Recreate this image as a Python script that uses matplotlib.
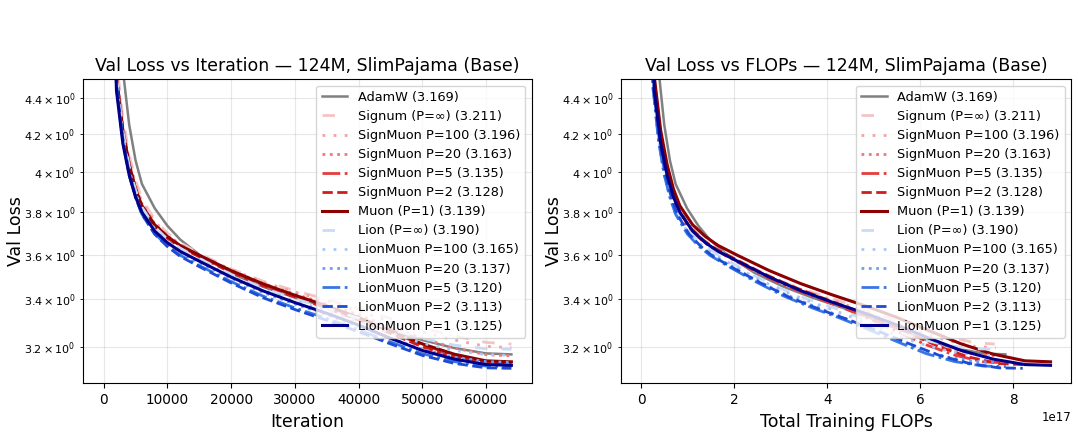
import numpy as np
import matplotlib
matplotlib.use("Agg")
import matplotlib.pyplot as plt

# evaluation steps shared by every run
iters = [0, 1000, 2000, 3000, 4000, 5000, 6000, 8000, 10000, 12000, 15000,
         20000, 25000, 30000, 35000, 40000, 45000, 50000, 55000, 60000, 64000]

labels = ["AdamW (3.169)", "Signum (P=∞) (3.211)", "SignMuon P=100 (3.196)",
          "SignMuon P=20 (3.163)", "SignMuon P=5 (3.135)", "SignMuon P=2 (3.128)",
          "Muon (P=1) (3.139)", "Lion (P=∞) (3.190)", "LionMuon P=100 (3.165)",
          "LionMuon P=20 (3.137)", "LionMuon P=5 (3.120)", "LionMuon P=2 (3.113)",
          "LionMuon P=1 (3.125)"]

adamw = [10.95, 7.0, 5.00, 4.56, 4.25, 4.06, 3.94, 3.82, 3.735, 3.67, 3.60,
         3.515, 3.455, 3.408, 3.367, 3.322, 3.273, 3.228, 3.195, 3.173, 3.169]
signum = [10.95, 6.4, 4.62, 4.29, 4.09, 3.96, 3.865, 3.765, 3.70, 3.655, 3.605,
          3.535, 3.48, 3.438, 3.40, 3.36, 3.318, 3.278, 3.245, 3.218, 3.211]
signmuon_p100 = [10.95, 6.3, 4.57, 4.26, 4.07, 3.94, 3.85, 3.755, 3.693, 3.648, 3.60,
                 3.532, 3.476, 3.432, 3.393, 3.35, 3.305, 3.262, 3.228, 3.202, 3.196]
signmuon_p20 = [10.95, 6.25, 4.54, 4.24, 4.05, 3.925, 3.84, 3.745, 3.687, 3.643, 3.597,
                3.528, 3.47, 3.423, 3.38, 3.333, 3.282, 3.235, 3.195, 3.168, 3.163]
signmuon_p5 = [10.95, 6.2, 4.52, 4.22, 4.04, 3.915, 3.83, 3.737, 3.68, 3.638, 3.593,
               3.523, 3.463, 3.413, 3.367, 3.317, 3.262, 3.208, 3.166, 3.139, 3.135]
signmuon_p2 = [10.95, 6.2, 4.51, 4.21, 4.03, 3.91, 3.825, 3.732, 3.676, 3.634, 3.59,
               3.52, 3.46, 3.41, 3.362, 3.311, 3.255, 3.20, 3.158, 3.132, 3.128]
muon = [10.95, 6.2, 4.52, 4.22, 4.04, 3.915, 3.832, 3.74, 3.684, 3.642, 3.597,
        3.527, 3.468, 3.418, 3.372, 3.322, 3.266, 3.212, 3.17, 3.143, 3.139]
lion = [10.95, 6.2, 4.52, 4.22, 4.03, 3.91, 3.825, 3.73, 3.672, 3.63, 3.582,
        3.51, 3.45, 3.402, 3.362, 3.319, 3.273, 3.235, 3.207, 3.192, 3.190]
lionmuon_p100 = [10.95, 6.1, 4.50, 4.20, 4.01, 3.895, 3.81, 3.72, 3.663, 3.62, 3.574,
                 3.503, 3.443, 3.394, 3.351, 3.305, 3.258, 3.215, 3.185, 3.168, 3.165]
lionmuon_p20 = [10.95, 6.1, 4.48, 4.18, 4.00, 3.885, 3.80, 3.71, 3.653, 3.61, 3.564,
                3.493, 3.43, 3.38, 3.334, 3.285, 3.235, 3.19, 3.158, 3.14, 3.137]
lionmuon_p5 = [10.95, 6.0, 4.46, 4.16, 3.985, 3.872, 3.79, 3.698, 3.64, 3.597, 3.55,
               3.478, 3.414, 3.363, 3.318, 3.27, 3.22, 3.172, 3.14, 3.122, 3.120]
lionmuon_p2 = [10.95, 6.0, 4.47, 4.17, 3.99, 3.875, 3.79, 3.695, 3.637, 3.592, 3.545,
               3.472, 3.407, 3.356, 3.31, 3.262, 3.212, 3.165, 3.133, 3.115, 3.113]
lionmuon_p1 = [10.95, 6.0, 4.44, 4.15, 3.985, 3.875, 3.80, 3.71, 3.655, 3.615, 3.57,
               3.498, 3.437, 3.386, 3.34, 3.29, 3.235, 3.185, 3.15, 3.128, 3.125]

# total training FLOPs at the last step of each run
total_flops = [7.83e17, 7.60e17, 7.62e17, 7.66e17, 7.84e17, 8.20e17, 8.80e17,
               7.60e17, 7.62e17, 7.66e17, 7.84e17, 8.20e17, 8.80e17]

runs = [adamw, signum, signmuon_p100, signmuon_p20, signmuon_p5, signmuon_p2, muon,
        lion, lionmuon_p100, lionmuon_p20, lionmuon_p5, lionmuon_p2, lionmuon_p1]

colors = ["#808080", "#f4c4c4", "#f3a3a3", "#ef7878", "#e63c3c", "#d01c1c", "#8b0000",
          "#c9dcf7", "#a8c7f6", "#6d9ff0", "#3776e6", "#1c4cd4", "#00008b"]
styles = ["-", (0, (4.5, 5)), (0, (1, 3)), ":", "-.", "--", "-",
          (0, (4.5, 5)), (0, (1, 3)), ":", "-.", "--", "-"]
widths = [1.8, 2, 2, 2, 2, 2, 2.2, 2, 2, 2, 2, 2, 2.2]

fig = plt.figure(figsize=(10.78, 4.34), dpi=100)
ax1 = fig.add_axes([0.0773, 0.1168, 0.4160, 0.7005])
ax2 = fig.add_axes([0.5761, 0.1168, 0.4174, 0.7005])

it = np.array(iters, dtype=float)
for i, y in enumerate(runs):
    ax1.plot(it, y, color=colors[i], linestyle=styles[i], lw=widths[i], label=labels[i])
    ax2.plot(it / it[-1] * total_flops[i], y, color=colors[i], linestyle=styles[i],
             lw=widths[i], label=labels[i])

for ax, xl, t in [(ax1, "Iteration", "Val Loss vs Iteration — 124M, SlimPajama (Base)"),
                  (ax2, "Total Training FLOPs", "Val Loss vs FLOPs — 124M, SlimPajama (Base)")]:
    ax.set_yscale("log")
    ax.set_ylim(3.054, 4.504)
    ax.set_xlabel(xl, fontsize=12.5)
    ax.set_ylabel("Val Loss", fontsize=12.5)
    ax.yaxis.set_label_coords(-0.130, 0.5)
    ax.set_title(t, fontsize=12.5)
    ax.grid(True, which="both", alpha=0.3)
    ax.tick_params(axis="x", labelsize=9.8)
    ax.tick_params(axis="y", which="both", labelsize=8)
    ax.xaxis.get_offset_text().set_fontsize(8.5)
    ax.legend(loc="upper right", fontsize=9.3, labelspacing=0.47)

plt.savefig("out.png", dpi=100)
